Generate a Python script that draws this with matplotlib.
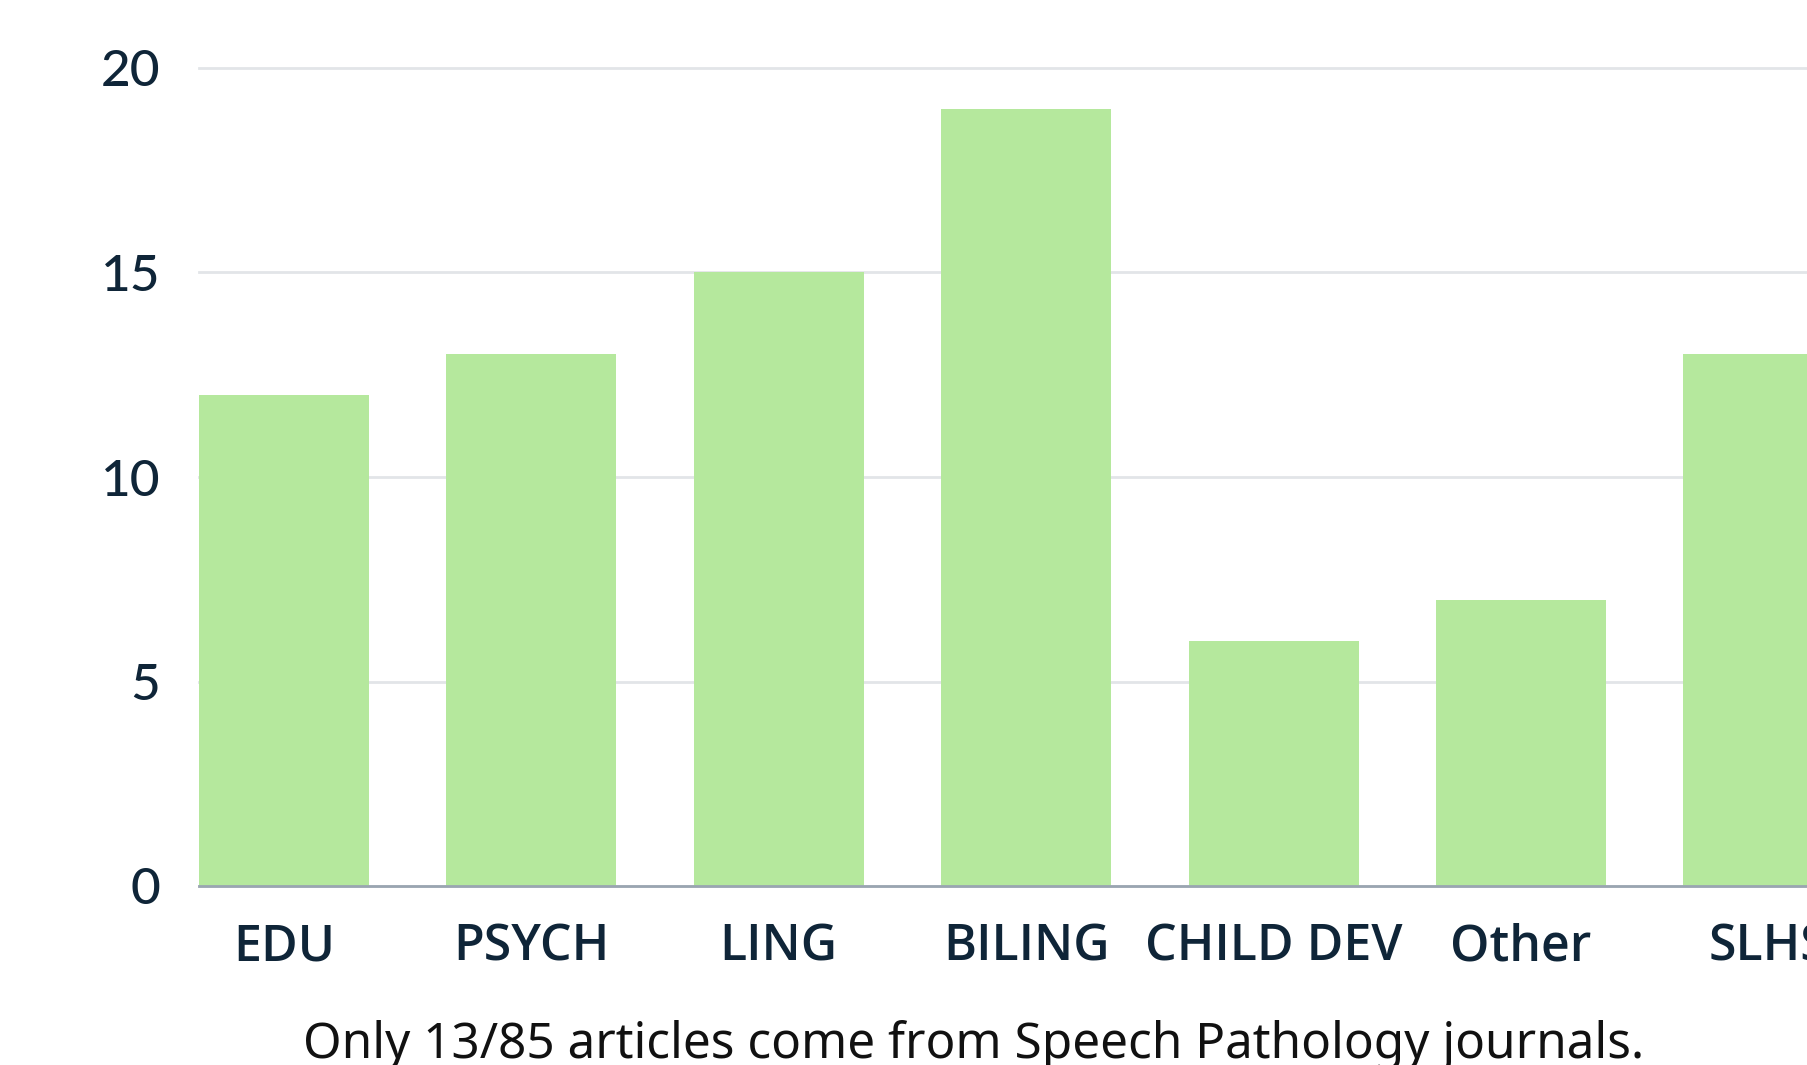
import matplotlib.pyplot as plt

# journal field counts
categories = ["EDU", "PSYCH", "LING", "BILING", "CHILD DEV", "Other", "SLHS"]
counts = [12, 13, 15, 19, 6, 7, 13]
y_ticks = [0, 5, 10, 15, 20]
caption = "Only 13/85 articles come from Speech Pathology journals."

W, H = 1807, 1065
bar_w = 0.687
text_col = "#0f2538"

fig = plt.figure(figsize=(W / 100, H / 100), dpi=100)
fig.patch.set_facecolor("white")

# axes runs past the right edge on purpose (the original is cropped there)
unit_px = 247.4
x0 = -bar_w / 2
x1 = len(categories) - 1 + bar_w / 2
left, bottom, top = 199, 886, 68
ax = fig.add_axes([left / W, (H - bottom) / H, (x1 - x0) * unit_px / W, (bottom - top) / H])

ax.bar(range(len(categories)), counts, width=bar_w, color="#b5e89d", zorder=2)

ax.set_xlim(x0, x1)
ax.set_ylim(0, 20)
ax.set_yticks(y_ticks)
ax.set_yticklabels([str(t) for t in y_ticks], fontsize=37, color=text_col, family="Lato",
                   fontweight="medium")
ax.set_xticks(range(len(categories)))
ax.set_xticklabels(categories, fontsize=36, color=text_col, family="Open Sans", fontweight="semibold")
ax.tick_params(axis="y", length=0, pad=28)
ax.tick_params(axis="x", length=0, pad=26)

ax.grid(axis="y", color="#e2e5e8", linewidth=2, zorder=0)
ax.set_axisbelow(True)
for s in ["top", "right", "left"]:
    ax.spines[s].set_visible(False)
ax.spines["bottom"].set_color("#9aa5b1")
ax.spines["bottom"].set_linewidth(2)
ax.spines["bottom"].set_zorder(3)
for gl in ax.get_ygridlines():
    gl.set_clip_on(False)

fig.text(974 / W, (H - 1058) / H, caption, ha="center", va="baseline",
         fontsize=35.6, color="#111111", family="Noto Sans")

fig.savefig("out.png", dpi=100)
